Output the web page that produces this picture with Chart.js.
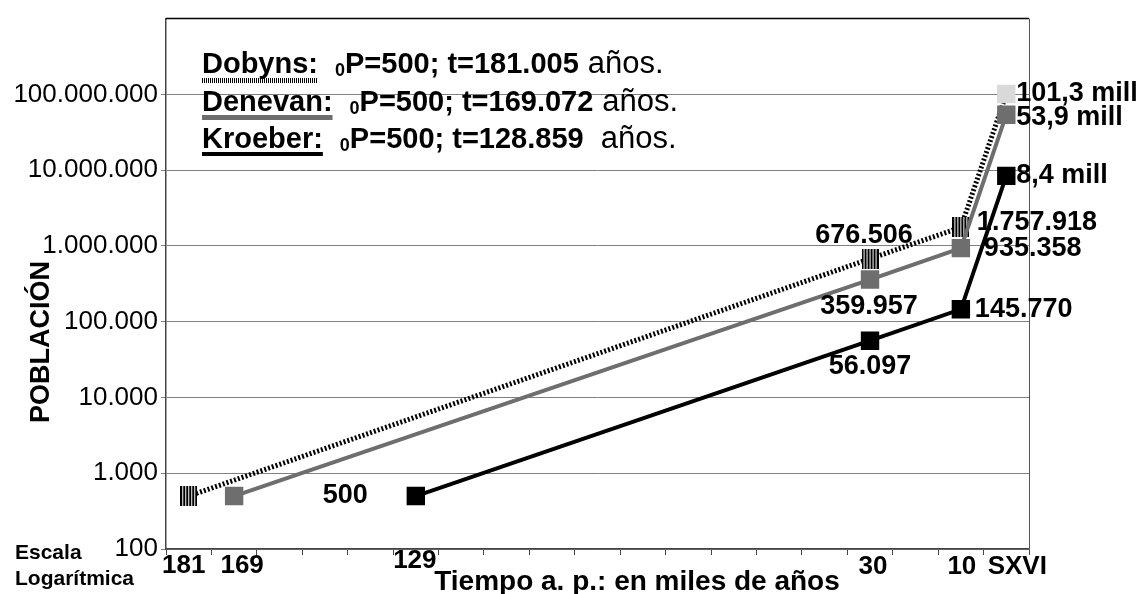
<!DOCTYPE html>
<html>
<head>
<meta charset="utf-8">
<script src="https://cdn.jsdelivr.net/npm/chart.js@4.4.1/dist/chart.umd.min.js"></script>
<style>
  html, body { margin: 0; padding: 0; background: #fff; }
  #wrap { width: 1142px; height: 594px; position: relative; }
</style>
</head>
<body>
<div id="wrap"><canvas id="chart"></canvas></div>
<script>
// categories: thousands of years before present (19 slots on the axis)
var categories = ['181', '169', '', '', '', '129', '', '', '', '', '', '', '', '', '', '30', '', '10', 'SXVI'];

var dobyns  = [500, null, null, null, null, null, null, null, null, null, null, null, null, null, null, 676506, null, 1757918, 101300000];
var denevan = [null, 500, null, null, null, null, null, null, null, null, null, null, null, null, null, 359957, null, 935358, 53900000];
var kroeber = [null, null, null, null, null, 500, null, null, null, null, null, null, null, null, null, 56097, null, 145770, 8400000];

var dobynsLabels  = {15: '676.506', 17: '1.757.918', 18: '101,3 mill'};
var denevanLabels = {15: '359.957', 17: '935.358', 18: '53,9 mill'};
var kroeberLabels = {5: '500', 15: '56.097', 17: '145.770', 18: '8,4 mill'};

var yTicks = [100, 1000, 10000, 100000, 1000000, 10000000, 100000000];

var FONT = "'Liberation Sans', Arial, sans-serif";

function fmt(v) {
    return String(v).replace(/\B(?=(\d{3})+(?!\d))/g, '.');
}

// striped marker used by the Dobyns series
function stripeMarker(w, h) {
    var c = document.createElement('canvas');
    c.width = w; c.height = h;
    var g = c.getContext('2d');
    g.fillStyle = '#fff';
    g.fillRect(0, 0, w, h);
    g.fillStyle = '#000';
    for (var x = 0; x < w; x += 3) g.fillRect(x, 0, 2, h);
    return c;
}
var stripe = stripeMarker(17, 20);

// label placement relative to each point: dx, dy, align
var labelPos = {
    dob: {15: [-6, -23, 'center'], 17: [16, -5, 'left'], 18: [10, 0, 'left']},
    den: {15: [-1, 27, 'center'], 17: [23, 0, 'left'], 18: [10, 3, 'left']},
    kro: {5: [-48, 0, 'right'], 15: [0, 26, 'center'], 17: [14, 0, 'left'], 18: [10, 0, 'left']}
};
// nudges for the category text under the axis: dx, y
var catPos = {0: [-5, 566], 1: [8, 566], 5: [-1, 561], 15: [3, 567], 17: [1, 567], 18: [11, 567]};

var extras = {
    id: 'extras',
    afterDraw: function(chart) {
        var ctx = chart.ctx;
        var a = chart.chartArea;
        var xs = chart.scales.x;

        ctx.save();
        // frame top and right
        ctx.strokeStyle = '#000';
        ctx.lineWidth = 1.5;
        ctx.beginPath();
        ctx.moveTo(a.left, a.top);
        ctx.lineTo(a.right, a.top);
        ctx.stroke();
        ctx.strokeStyle = '#555';
        ctx.lineWidth = 1;
        ctx.beginPath();
        ctx.moveTo(a.right + 0.5, a.top);
        ctx.lineTo(a.right + 0.5, a.bottom);
        ctx.stroke();

        // value labels
        ctx.fillStyle = '#000';
        ctx.font = 'bold 27px ' + FONT;
        ctx.textBaseline = 'middle';
        var sets = [['dob', 2, dobynsLabels], ['den', 1, denevanLabels], ['kro', 0, kroeberLabels]];
        sets.forEach(function(s) {
            var meta = chart.getDatasetMeta(s[1]);
            Object.keys(s[2]).forEach(function(i) {
                var pt = meta.data[i];
                var p = labelPos[s[0]][i];
                ctx.textAlign = p[2];
                ctx.fillText(s[2][i], pt.x + p[0], pt.y + p[1]);
            });
        });

        // x category labels
        ctx.font = 'bold 26px ' + FONT;
        ctx.textAlign = 'center';
        categories.forEach(function(c, i) {
            if (!c) return;
            var p = catPos[i];
            ctx.fillText(c, xs.getPixelForValue(i) + p[0], p[1]);
        });

        // axis titles
        ctx.font = 'bold 28px ' + FONT;
        ctx.fillText('Tiempo a. p.: en miles de años', 637, 582);

        ctx.save();
        ctx.translate(42, 342);
        ctx.rotate(-Math.PI / 2);
        ctx.font = 'bold 27px ' + FONT;
        ctx.fillText('POBLACIÓN', 0, 0);
        ctx.restore();

        ctx.font = 'bold 21px ' + FONT;
        ctx.textAlign = 'left';
        ctx.fillText('Escala', 15, 553);
        ctx.fillText('Logarítmica', 15, 579);

        // legend block
        var rows = [
            ['Dobyns:', '181.005', 'stripe', 73],
            ['Denevan:', '169.072', '#6e6e6e', 111],
            ['Kroeber:', '128.859', '#000', 148]
        ];
        ctx.textBaseline = 'alphabetic';
        rows.forEach(function(r) {
            var x = 202, y = r[3];
            ctx.font = 'bold 29px ' + FONT;
            ctx.fillText(r[0], x, y);
            var w = ctx.measureText(r[0]).width;
            if (r[2] === 'stripe') {
                for (var k = x; k < x + w; k += 2) ctx.fillRect(k, y + 5, 1, 5);
            } else {
                ctx.fillStyle = r[2];
                ctx.fillRect(x, y + 4, w, r[2] === '#000' ? 4 : 5);
                ctx.fillStyle = '#000';
            }
            x += w + 17;
            ctx.font = 'bold 18px ' + FONT;
            ctx.fillText('0', x, y + 3);
            x += ctx.measureText('0').width;
            ctx.font = 'bold 29px ' + FONT;
            var t = 'P=500; t=' + r[1];
            ctx.fillText(t, x, y);
            x += ctx.measureText(t).width + (r[0] === 'Kroeber:' ? 17 : 9);
            ctx.font = '31px ' + FONT;
            ctx.fillText('años.', x, y);
        });
        ctx.restore();
    }
};

var ctx = document.getElementById('chart').getContext('2d');
var chart = new Chart(ctx, {
    type: 'line',
    data: {
        labels: categories,
        datasets: [{
            label: 'Kroeber',
            data: kroeber,
            borderColor: '#000',
            borderWidth: 4,
            pointStyle: 'rect',
            pointRadius: 13,
            pointBorderWidth: 0,
            pointBackgroundColor: '#000',
            spanGaps: true
        }, {
            label: 'Denevan',
            data: denevan,
            borderColor: '#6e6e6e',
            borderWidth: 4,
            pointStyle: 'rect',
            pointRadius: 13,
            pointBorderWidth: 0,
            pointBackgroundColor: '#6e6e6e',
            spanGaps: true
        }, {
            label: 'Dobyns',
            data: dobyns,
            borderColor: '#000',
            borderWidth: 5,
            borderDash: [2, 2],
            pointStyle: function(c) { return c.dataIndex === 18 ? 'rect' : stripe; },
            pointRadius: 13,
            pointBorderWidth: 0,
            pointBackgroundColor: '#d9d9d9',
            spanGaps: true
        }]
    },
    options: {
        responsive: true,
        maintainAspectRatio: false,
        animation: false,
        layout: { autoPadding: false, padding: { top: 11.4, right: 113, left: 0, bottom: 0 } },
        plugins: { legend: { display: false }, tooltip: { enabled: false } },
        scales: {
            x: {
                type: 'category',
                offset: true,
                grid: { offset: true, drawOnChartArea: false, drawTicks: true, tickLength: 6, color: '#444' },
                border: { color: '#444', width: 1.5 },
                ticks: { display: false },
                afterFit: function(s) { s.height = 45; }
            },
            y: {
                type: 'logarithmic',
                min: 100,
                max: 1000000000,
                afterBuildTicks: function(s) {
                    s.ticks = yTicks.map(function(v) { return {value: v}; });
                },
                ticks: {
                    color: '#000',
                    padding: 3,
                    font: { family: FONT, size: 26 },
                    callback: function(v) { return fmt(v); }
                },
                grid: { color: '#808080', tickLength: 5 },
                border: { color: '#444', width: 1.5 },
                afterFit: function(s) { s.width = 166; }
            }
        }
    },
    plugins: [extras]
});
</script>
</body>
</html>
